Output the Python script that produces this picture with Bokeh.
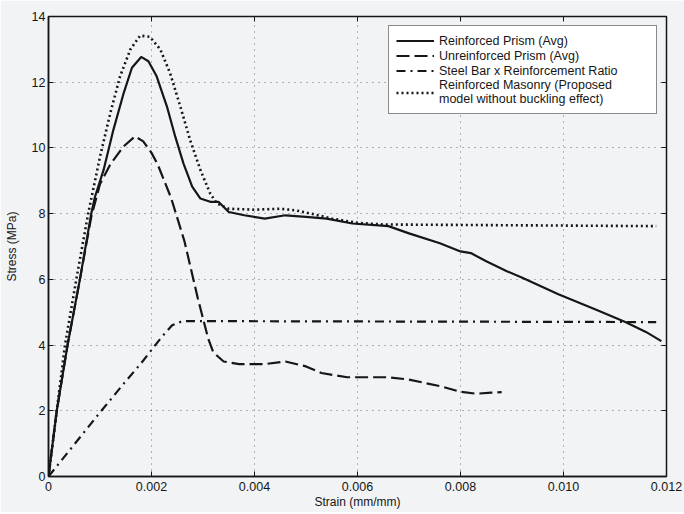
from bokeh.plotting import figure
from bokeh.models import LinearAxis, Legend, LegendItem, FixedTicker, Range1d
from bokeh.embed import file_html
from bokeh.resources import INLINE

# Reinforced Prism (Avg) - solid
rp_strain = [0, 0.00016, 0.00037, 0.00061, 0.00083, 0.0009, 0.00107, 0.00126, 0.00146, 0.00162,
             0.0018, 0.00194, 0.0021, 0.0023, 0.00246, 0.00262, 0.00279, 0.00295, 0.00314, 0.0033,
             0.0035, 0.0038, 0.0042, 0.0046, 0.005, 0.0054, 0.0059, 0.0066, 0.007, 0.0076,
             0.008, 0.0082, 0.0085, 0.0089, 0.0092, 0.0099, 0.0106, 0.0112, 0.0116, 0.0119]
rp_stress = [0, 2.0, 4.0, 6.0, 8.0, 8.5, 9.33, 10.55, 11.67, 12.44,
             12.77, 12.64, 12.18, 11.26, 10.35, 9.53, 8.82, 8.46, 8.36, 8.36,
             8.05, 7.95, 7.85, 7.95, 7.9, 7.85, 7.7, 7.62, 7.4, 7.1,
             6.85, 6.8, 6.55, 6.25, 6.05, 5.55, 5.1, 4.7, 4.4, 4.12]

# Unreinforced Prism (Avg) - dashed
up_strain = [0, 0.00016, 0.00037, 0.00061, 0.00083, 0.001, 0.0012, 0.00146, 0.00168, 0.00184,
             0.002, 0.00212, 0.00238, 0.00264, 0.0029, 0.0031, 0.0032, 0.0034, 0.0037, 0.0042,
             0.0046, 0.005, 0.0053, 0.0058, 0.0066, 0.007, 0.0076, 0.008, 0.0083, 0.0086, 0.0088]
up_stress = [0, 2.0, 4.0, 6.0, 7.9, 8.9, 9.5, 10.05, 10.35, 10.2,
             9.85, 9.5, 8.48, 7.16, 5.42, 4.2, 3.78, 3.5, 3.42, 3.42,
             3.5, 3.35, 3.15, 3.02, 3.02, 2.95, 2.75, 2.58, 2.52, 2.55, 2.57]

# Steel Bar x Reinforcement Ratio - dash-dot
sb_strain = [0, 0.001, 0.0015, 0.0018, 0.002, 0.0022, 0.0024, 0.0026, 0.0118]
sb_stress = [0, 1.95, 2.9, 3.45, 3.85, 4.25, 4.6, 4.73, 4.7]

# Reinforced Masonry (Proposed model) - dotted
rm_strain = [0, 0.00032, 0.00054, 0.00077, 0.001, 0.0012, 0.00139, 0.00159, 0.00178, 0.00197,
             0.00217, 0.00236, 0.00256, 0.00275, 0.00295, 0.00314, 0.00327, 0.0035, 0.004, 0.0045,
             0.0048, 0.0051, 0.0055, 0.006, 0.0065, 0.0118]
rm_stress = [0, 4.0, 6.0, 8.0, 9.73, 11.06, 12.18, 13.0, 13.42, 13.38,
             13.0, 12.28, 11.26, 10.24, 9.33, 8.61, 8.31, 8.15, 8.12, 8.15,
             8.1, 8.0, 7.85, 7.72, 7.67, 7.62]

x_ticks = [0, 0.002, 0.004, 0.006, 0.008, 0.010, 0.012]
x_tick_labels = ["0", "0.002", "0.004", "0.006", "0.008", "0.010", "0.012"]
y_ticks = [0, 2, 4, 6, 8, 10, 12, 14]

labels = ["Reinforced Prism (Avg)", "Unreinforced Prism (Avg)",
          "Steel Bar x Reinforcement Ratio",
          "Reinforced Masonry (Proposed\nmodel without buckling effect)"]

BG = "#f1f3f5"
INK = "#161616"
FONT = "Liberation Sans"

p = figure(frame_width=618, frame_height=460, output_backend="svg", toolbar_location=None,
           x_range=Range1d(0, 0.012), y_range=Range1d(0, 14),
           min_border_left=48, min_border_top=16, min_border_right=18, min_border_bottom=36)
p.background_fill_color = BG
p.border_fill_color = BG
p.outline_line_color = INK
p.outline_line_width = 1.5

r1 = p.line(rp_strain, rp_stress, line_color=INK, line_width=2.2)
r2 = p.line(up_strain, up_stress, line_color=INK, line_width=2.2, line_dash="13 5")
r3 = p.line(sb_strain, sb_stress, line_color=INK, line_width=2.2, line_dash="9 5 2 5")
r4 = p.line(rm_strain, rm_stress, line_color=INK, line_width=2.6, line_dash="2 3")

for ax in (p.xaxis[0], p.yaxis[0]):
    ax.major_tick_in = 5
    ax.major_tick_out = 0
    ax.minor_tick_in = 0
    ax.minor_tick_out = 0
    ax.axis_line_color = INK
    ax.axis_line_width = 1.5
    ax.major_tick_line_color = INK
    ax.major_label_text_font = FONT
    ax.major_label_text_font_size = "12.5px"
    ax.major_label_text_color = INK
    ax.axis_label_text_font = FONT
    ax.axis_label_text_font_size = "12px"
    ax.axis_label_text_font_style = "normal"
    ax.axis_label_text_color = INK

p.xaxis[0].ticker = FixedTicker(ticks=x_ticks)
p.xaxis[0].major_label_overrides = {t: l for t, l in zip(x_ticks, x_tick_labels)}
p.xaxis[0].axis_label = "Strain (mm/mm)"
p.xaxis[0].axis_label_standoff = 1
p.xaxis[0].major_label_standoff = 5
p.yaxis[0].ticker = FixedTicker(ticks=y_ticks)
p.yaxis[0].axis_label = "Stress (MPa)"
p.yaxis[0].axis_label_standoff = 10
p.yaxis[0].major_label_standoff = 3

top = LinearAxis(ticker=FixedTicker(ticks=x_ticks), major_label_text_font_size="0px",
                 major_tick_in=5, major_tick_out=0, minor_tick_in=0, minor_tick_out=0,
                 axis_line_color=INK, major_tick_line_color=INK)
right = LinearAxis(ticker=FixedTicker(ticks=y_ticks), major_label_text_font_size="0px",
                   major_tick_in=5, major_tick_out=0, minor_tick_in=0, minor_tick_out=0,
                   axis_line_color=INK, major_tick_line_color=INK)
top.major_label_overrides = {t: "" for t in x_ticks}
right.major_label_overrides = {t: "" for t in y_ticks}
p.add_layout(top, "above")
p.add_layout(right, "right")

p.xgrid.ticker = FixedTicker(ticks=x_ticks)
p.ygrid.ticker = FixedTicker(ticks=y_ticks)
p.grid.grid_line_color = "#444444"
p.grid.grid_line_alpha = 0.75
p.grid.grid_line_dash = "1 5"
p.grid.grid_line_width = 1

legend = Legend(items=[LegendItem(label=labels[0], renderers=[r1]),
                       LegendItem(label=labels[1], renderers=[r2]),
                       LegendItem(label=labels[2], renderers=[r3]),
                       LegendItem(label=labels[3], renderers=[r4])],
                location="top_right")
legend.border_line_color = INK
legend.border_line_width = 1.5
legend.background_fill_color = "white"
legend.background_fill_alpha = 1
legend.label_text_font = FONT
legend.label_text_font_size = "12.5px"
legend.label_text_color = INK
legend.glyph_width = 38
legend.glyph_height = 15
legend.label_standoff = 5
legend.label_width = 210
legend.spacing = 0
legend.padding = 7
legend.margin = 9
legend.label_height = 15
p.add_layout(legend, "center")

open("out.html", "w").write(file_html(p, INLINE))
